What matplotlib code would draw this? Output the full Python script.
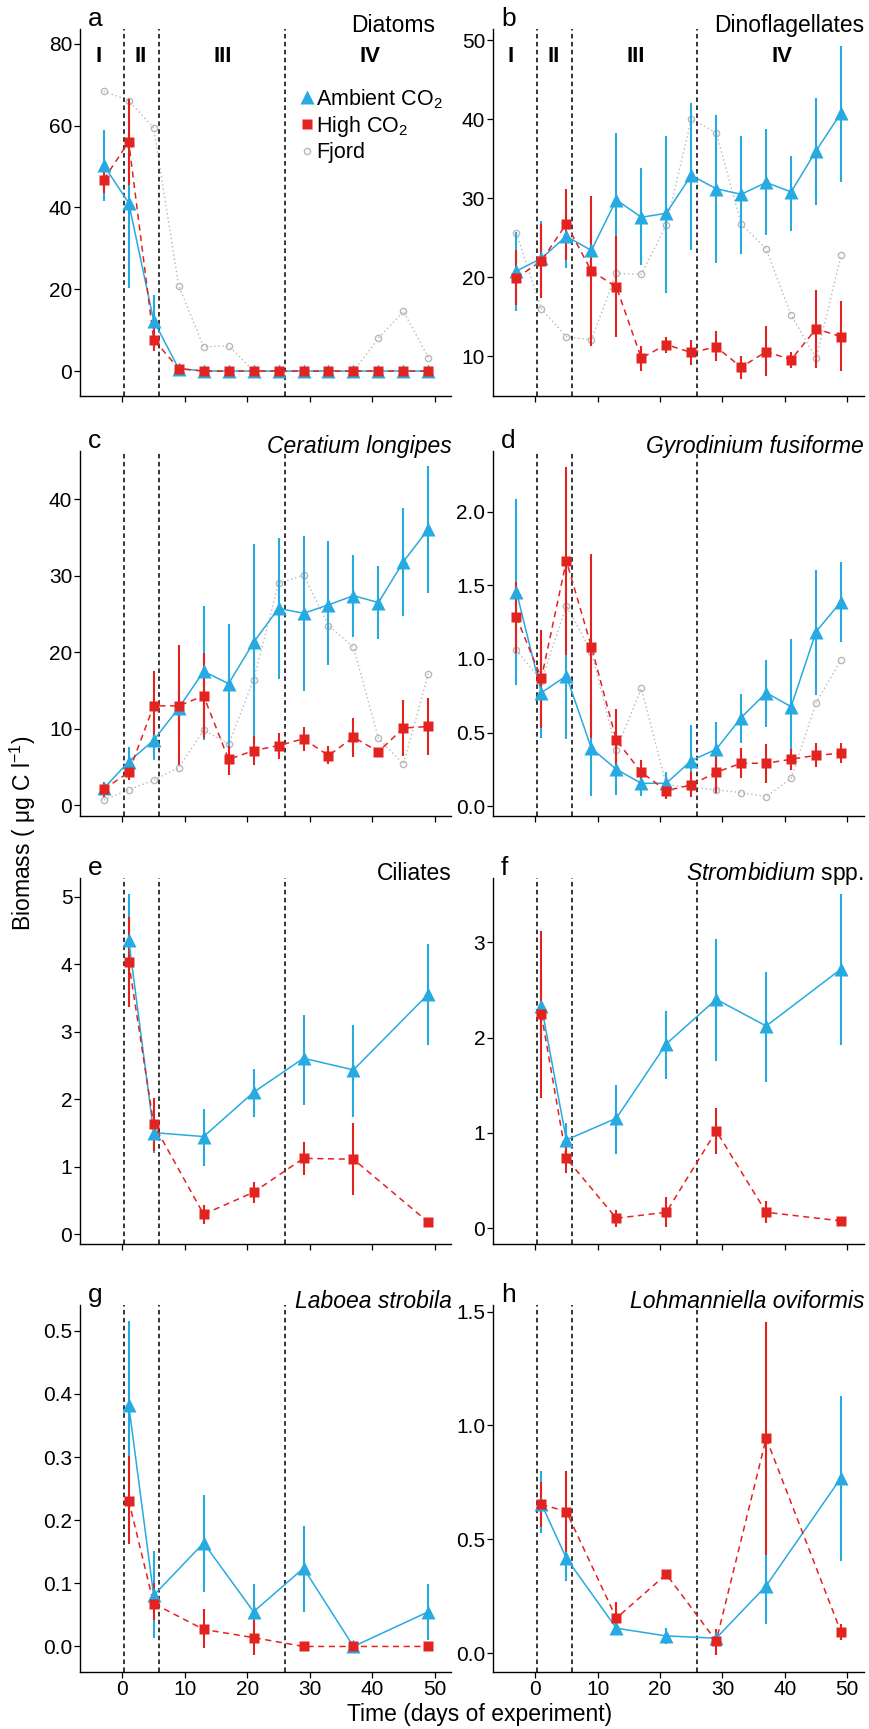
import numpy as np
import matplotlib
matplotlib.use('Agg')
import matplotlib.pyplot as plt
import matplotlib.transforms as mtransforms
from matplotlib.lines import Line2D
from matplotlib.ticker import FormatStrFormatter

plt.rcParams['font.family'] = ['Liberation Sans', 'DejaVu Sans']
plt.rcParams['mathtext.fontset'] = 'custom'
plt.rcParams['mathtext.rm'] = 'Liberation Sans'
plt.rcParams['mathtext.it'] = 'Liberation Sans:italic'
plt.rcParams['mathtext.bf'] = 'Liberation Sans:bold'

BLUE = '#27aae1'
RED = '#e32320'
GREY = '#b8b8b8'

# sampling days
days_phyto = [-3, 1, 5, 9, 13, 17, 21, 25, 29, 33, 37, 41, 45, 49]
days_cil = [1, 5, 13, 21, 29, 37, 49]

# phases of the experiment
phase_bounds = [0.3, 5.9, 26.0]
phase_names = ['I', 'II', 'III', 'IV']
phase_x = [-3.9, 2.9, 16.1, 39.6]

# a - diatoms
diat_amb = [50.3, 41.1, 12.3, 0.6, 0, 0, 0, 0, 0, 0, 0, 0, 0, 0]
diat_amb_lo = [41.5, 20.2, 5.5, 0.3, 0, 0, 0, 0, 0, 0, 0, 0, 0, 0]
diat_amb_hi = [58.9, 62.0, 18.6, 1.0, 0, 0, 0, 0, 0, 0, 0, 0, 0, 0]
diat_high = [46.8, 56.0, 7.7, 0.6, 0, 0, 0, 0, 0, 0, 0, 0, 0, 0]
diat_high_lo = [43.4, 45.5, 5.0, 0.3, 0, 0, 0, 0, 0, 0, 0, 0, 0, 0]
diat_high_hi = [50.1, 66.6, 10.5, 1.0, 0, 0, 0, 0, 0, 0, 0, 0, 0, 0]
diat_fjord = [68.4, 66.1, 59.4, 20.9, 5.9, 6.2, 0, 0, 0, 0, 0, 8.0, 14.6, 3.3]

# b - dinoflagellates
dino_amb = [20.8, 22.4, 25.2, 23.4, 29.8, 27.6, 28.1, 32.9, 31.2, 30.5, 32.0, 30.8, 36.0, 40.8]
dino_amb_lo = [15.8, 17.7, 21.2, 20.4, 21.4, 21.6, 18.0, 23.5, 21.8, 22.9, 25.3, 25.9, 29.1, 32.0]
dino_amb_hi = [25.7, 27.1, 28.6, 26.4, 38.2, 33.8, 37.9, 42.1, 40.5, 37.9, 38.7, 35.4, 42.7, 49.3]
dino_high = [19.9, 22.1, 26.75, 20.8, 18.8, 9.8, 11.5, 10.5, 11.2, 8.65, 10.6, 9.6, 13.5, 12.5]
dino_high_lo = [16.5, 17.4, 22.2, 11.3, 12.5, 8.2, 10.4, 8.9, 9.4, 7.1, 7.55, 8.5, 8.5, 8.1]
dino_high_hi = [23.5, 26.8, 31.2, 30.25, 25.2, 11.3, 12.4, 12.1, 13.2, 10.1, 13.9, 10.6, 18.4, 17.0]
dino_fjord = [25.6, 16.0, 12.5, 12.1, 20.5, 20.4, 26.6, 40.0, 38.3, 26.75, 23.6, 15.2, 9.8, 22.8]

# c - Ceratium longipes
cera_amb = [2.2, 5.7, 8.5, 12.7, 17.5, 15.9, 21.3, 25.75, 25.1, 26.2, 27.4, 26.5, 31.85, 36.1]
cera_amb_lo = [1.4, 4.6, 5.9, 8.7, 8.6, 7.7, 8.4, 16.5, 14.9, 18.3, 22.05, 21.7, 24.7, 27.8]
cera_amb_hi = [3.0, 7.6, 10.9, 16.7, 26.1, 23.7, 34.2, 34.9, 35.2, 34.5, 32.7, 31.3, 38.8, 44.4]
cera_high = [2.1, 4.3, 13.0, 13.0, 14.3, 6.0, 7.15, 7.8, 8.7, 6.5, 8.9, 7.0, 10.1, 10.3]
cera_high_lo = [1.1, 3.3, 8.5, 5.3, 8.8, 4.0, 5.3, 6.0, 7.1, 5.4, 6.3, 6.5, 6.4, 6.6]
cera_high_hi = [3.1, 5.3, 17.5, 20.9, 19.9, 7.7, 9.0, 9.5, 10.2, 7.8, 11.4, 7.5, 13.8, 14.0]
cera_fjord = [0.7, 2.0, 3.3, 4.9, 9.85, 8.0, 16.4, 29.0, 30.1, 23.5, 20.65, 8.75, 5.4, 17.2]

# d - Gyrodinium fusiforme
gyro_amb = [1.457, 0.771, 0.885, 0.394, 0.251, 0.156, 0.156, 0.31, 0.387, 0.602, 0.771, 0.676, 1.186, 1.389]
gyro_amb_lo = [0.824, 0.462, 0.457, 0.072, 0.077, 0.072, 0.11, 0.07, 0.2, 0.432, 0.541, 0.247, 0.756, 1.113]
gyro_amb_hi = [2.086, 1.08, 1.027, 0.716, 0.42, 0.213, 0.23, 0.552, 0.57, 0.762, 0.993, 1.136, 1.604, 1.656]
gyro_high = [1.283, 0.869, 1.667, 1.084, 0.45, 0.231, 0.106, 0.145, 0.231, 0.292, 0.292, 0.319, 0.346, 0.36]
gyro_high_lo = [1.04, 0.529, 1.027, 0.462, 0.247, 0.145, 0.048, 0.061, 0.088, 0.19, 0.16, 0.247, 0.269, 0.292]
gyro_high_hi = [1.525, 1.197, 2.305, 1.713, 0.658, 0.314, 0.156, 0.235, 0.382, 0.398, 0.423, 0.387, 0.428, 0.428]
gyro_fjord = [1.061, 0.85, 1.362, 1.05, 0.382, 0.801, 0.145, 0.13, 0.111, 0.093, 0.066, 0.19, 0.704, 0.993]

# e - ciliates
cili_amb = [4.36, 1.507, 1.448, 2.105, 2.609, 2.436, 3.562]
cili_amb_lo = [3.67, 1.2, 1.013, 1.744, 1.917, 1.744, 2.806]
cili_amb_hi = [5.05, 1.8, 1.853, 2.446, 3.251, 3.103, 4.303]
cili_high = [4.032, 1.63, 0.296, 0.623, 1.126, 1.112, 0.178]
cili_high_lo = [3.365, 1.24, 0.153, 0.469, 0.879, 0.583, 0.14]
cili_high_hi = [4.708, 2.016, 0.435, 0.771, 1.374, 1.645, 0.216]

# f - Strombidium spp.
stro_amb = [2.332, 0.927, 1.154, 1.934, 2.402, 2.122, 2.72]
stro_amb_lo = [2.0, 0.75, 0.78, 1.566, 1.759, 1.538, 1.923]
stro_amb_hi = [2.65, 1.101, 1.503, 2.28, 3.031, 2.685, 3.507]
stro_high = [2.245, 0.734, 0.105, 0.168, 1.021, 0.168, 0.077]
stro_high_lo = [1.364, 0.584, 0.017, 0.01, 0.776, 0.052, 0.06]
stro_high_hi = [3.122, 0.909, 0.192, 0.325, 1.259, 0.287, 0.095]

# g - Laboea strobila
labo_amb = [0.383, 0.081, 0.164, 0.055, 0.124, 0.0, 0.055]
labo_amb_lo = [0.251, 0.013, 0.087, 0.011, 0.055, 0.0, 0.011]
labo_amb_hi = [0.515, 0.152, 0.24, 0.099, 0.191, 0.0, 0.099]
labo_high = [0.231, 0.068, 0.027, 0.014, 0.0, 0.0, 0.0]
labo_high_lo = [0.163, 0.042, -0.003, -0.013, 0.0, 0.0, 0.0]
labo_high_hi = [0.301, 0.1, 0.059, 0.042, 0.0, 0.0, 0.0]

# h - Lohmanniella oviformis
lohm_amb = [0.656, 0.417, 0.11, 0.076, 0.066, 0.296, 0.771]
lohm_amb_lo = [0.527, 0.318, 0.09, 0.04, 0.05, 0.129, 0.407]
lohm_amb_hi = [0.798, 0.512, 0.13, 0.11, 0.08, 0.432, 1.13]
lohm_high = [0.654, 0.622, 0.154, 0.347, 0.054, 0.944, 0.092]
lohm_high_lo = [0.556, 0.446, 0.078, 0.33, -0.007, 0.432, 0.056]
lohm_high_hi = [0.754, 0.802, 0.227, 0.36, 0.107, 1.456, 0.129]

panels = [
    dict(letter='a', title='Diatoms', x=days_phyto,
         amb=(diat_amb, diat_amb_lo, diat_amb_hi), high=(diat_high, diat_high_lo, diat_high_hi),
         fjord=diat_fjord, ylim=(-6.1, 83.6), yticks=[0, 20, 40, 60, 80], fmt='%d'),
    dict(letter='b', title='Dinoflagellates', x=days_phyto,
         amb=(dino_amb, dino_amb_lo, dino_amb_hi), high=(dino_high, dino_high_lo, dino_high_hi),
         fjord=dino_fjord, ylim=(5.0, 51.4), yticks=[10, 20, 30, 40, 50], fmt='%d'),
    dict(letter='c', title='Ceratium longipes', x=days_phyto, italic=True,
         amb=(cera_amb, cera_amb_lo, cera_amb_hi), high=(cera_high, cera_high_lo, cera_high_hi),
         fjord=cera_fjord, ylim=(-1.36, 46.35), yticks=[0, 10, 20, 30, 40], fmt='%d'),
    dict(letter='d', title='Gyrodinium fusiforme', x=days_phyto, italic=True,
         amb=(gyro_amb, gyro_amb_lo, gyro_amb_hi), high=(gyro_high, gyro_high_lo, gyro_high_hi),
         fjord=gyro_fjord, ylim=(-0.064, 2.414), yticks=[0, 0.5, 1.0, 1.5, 2.0], fmt='%.1f'),
    dict(letter='e', title='Ciliates', x=days_cil,
         amb=(cili_amb, cili_amb_lo, cili_amb_hi), high=(cili_high, cili_high_lo, cili_high_hi),
         ylim=(-0.144, 5.285), yticks=[0, 1, 2, 3, 4, 5], fmt='%d'),
    dict(letter='f', title=r'$\mathit{Strombidium}$ spp.', x=days_cil,
         amb=(stro_amb, stro_amb_lo, stro_amb_hi), high=(stro_high, stro_high_lo, stro_high_hi),
         ylim=(-0.165, 3.678), yticks=[0, 1, 2, 3], fmt='%d'),
    dict(letter='g', title='Laboea strobila', x=days_cil, italic=True,
         amb=(labo_amb, labo_amb_lo, labo_amb_hi), high=(labo_high, labo_high_lo, labo_high_hi),
         ylim=(-0.040, 0.541), yticks=[0, 0.1, 0.2, 0.3, 0.4, 0.5], fmt='%.1f'),
    dict(letter='h', title='Lohmanniella oviformis', x=days_cil, italic=True,
         amb=(lohm_amb, lohm_amb_lo, lohm_amb_hi), high=(lohm_high, lohm_high_lo, lohm_high_hi),
         ylim=(-0.081, 1.529), yticks=[0, 0.5, 1.0, 1.5], fmt='%.1f'),
]

W, H = 869, 1729
fig = plt.figure(figsize=(W / 100, H / 100), dpi=100)

col_left = [80, 492.7]
col_width = 371.5
row_top = [29, 450.7, 877.7, 1305]
row_bottom = [396, 815.7, 1244, 1671.7]
title_right = {'a': 435}


def draw_series(ax, x, vals, color, marker, ms, ls):
    y, lo, hi = (np.asarray(v, dtype=float) for v in vals)
    ax.errorbar(x, y, yerr=[y - lo, hi - y], fmt='none', ecolor=color,
                elinewidth=1.5, capsize=0, zorder=3)
    ax.plot(x, y, color=color, lw=1.1, ls=ls, zorder=4)
    ax.plot(x, y, ls='none', marker=marker, ms=ms, color=color, mec='none', zorder=5)


for i, p in enumerate(panels):
    r, c = divmod(i, 2)
    left = col_left[c] / W
    bottom = 1 - row_bottom[r] / H
    height = (row_bottom[r] - row_top[r]) / H
    ax = fig.add_axes([left, bottom, col_width / W, height])

    x = np.asarray(p['x'], dtype=float)

    for xb in phase_bounds:
        ax.axvline(xb, color='black', lw=1.1, ls=(0, (3, 2.2)), zorder=2)

    if 'fjord' in p:
        ax.plot(x, p['fjord'], color=GREY, lw=1.0, ls=(0, (1, 2)), zorder=1)
        ax.plot(x, p['fjord'], ls='none', marker='o', ms=4.5, mfc='none', mec=GREY, mew=1.0, zorder=1)

    draw_series(ax, x, p['amb'], BLUE, '^', 10, '-')
    draw_series(ax, x, p['high'], RED, 's', 7.5, (0, (4, 3)))

    ax.set_xlim(-6.8, 52.7)
    ax.set_ylim(*p['ylim'])
    ax.set_xticks([0, 10, 20, 30, 40, 50])
    ax.set_yticks(p['yticks'])
    ax.yaxis.set_major_formatter(FormatStrFormatter(p['fmt']))
    if r < 3:
        ax.tick_params(axis='x', labelbottom=False)

    for s in ['top', 'right']:
        ax.spines[s].set_visible(False)
    for s in ['left', 'bottom']:
        ax.spines[s].set_linewidth(1.0)
    ax.tick_params(direction='out', length=4, width=0.9, labelsize=15, pad=2)
    ax.tick_params(axis='y', pad=1.5)

    ax.text(0.022, 1.008, p['letter'], transform=ax.transAxes, fontsize=19,
            ha='left', va='baseline')
    tr = title_right.get(p['letter'], col_left[c] + col_width)
    ax.text((tr - col_left[c]) / col_width, 0.993, p['title'], transform=ax.transAxes,
            fontsize=16.5, ha='right', va='baseline',
            fontstyle='italic' if p.get('italic') else 'normal')

    if r == 0:
        trans = mtransforms.blended_transform_factory(ax.transData, ax.transAxes)
        for name, px in zip(phase_names, phase_x):
            ax.text(px, 0.9245, name, transform=trans, fontsize=16, fontweight='bold',
                    ha='center', va='center')

    if i == 0:
        handles = [
            Line2D([], [], ls='none', marker='^', ms=10, color=BLUE, mec='none'),
            Line2D([], [], ls='none', marker='s', ms=7.5, color=RED, mec='none'),
            Line2D([], [], ls='none', marker='o', ms=4.5, mfc='none', mec=GREY),
        ]
        ax.legend(handles, ['Ambient CO$_2$', 'High CO$_2$', 'Fjord'],
                  loc='upper left', bbox_to_anchor=(0.587, 0.842), frameon=False,
                  fontsize=15.5, handlelength=0.8, handletextpad=0.05,
                  labelspacing=0.15, borderpad=0, borderaxespad=0)

fig.text(22.5 / W, 1 - 833 / H, 'Biomass ( μg C l$^{-1}$)', rotation=90,
         ha='center', va='center', fontsize=16.5)
fig.text(480 / W, 1 - 1715 / H, 'Time (days of experiment)',
         ha='center', va='center', fontsize=16.5)

fig.savefig('out.png', dpi=100, facecolor='white')
